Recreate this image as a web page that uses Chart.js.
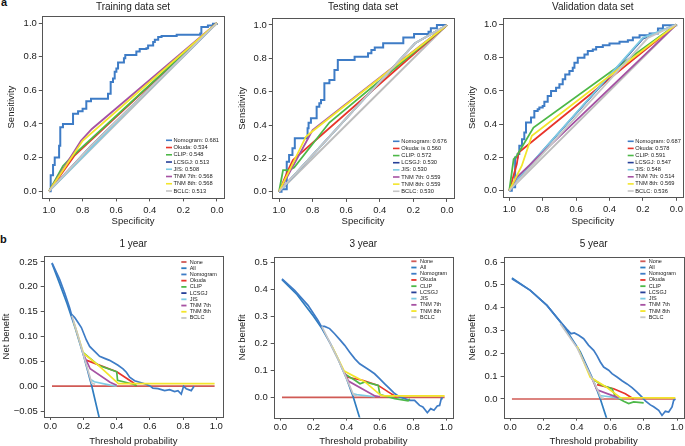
<!DOCTYPE html>
<html><head><meta charset="utf-8">
<script src="https://cdn.jsdelivr.net/npm/chart.js@4/dist/chart.umd.min.js"></script>
<style>
html,body{margin:0;padding:0;background:#fff;width:685px;height:446px;overflow:hidden;position:relative;font-family:"Liberation Sans",Arial,Helvetica,sans-serif;}
canvas{position:absolute;}
.lab{position:absolute;font-weight:bold;font-size:11px;line-height:11px;color:#111;}
</style></head><body>
<div class="lab" style="left:1px;top:-3px">a</div>
<div class="lab" style="left:0px;top:234px">b</div>
<canvas id="c1" width="229" height="230" style="left:0px;top:0px"></canvas>
<canvas id="c2" width="229" height="230" style="left:229px;top:0px"></canvas>
<canvas id="c3" width="227" height="230" style="left:458px;top:0px"></canvas>
<canvas id="c4" width="229" height="216" style="left:0px;top:230px"></canvas>
<canvas id="c5" width="229" height="216" style="left:229px;top:230px"></canvas>
<canvas id="c6" width="227" height="216" style="left:458px;top:230px"></canvas>
<script>
// ---------------- DATA ----------------
const models = ['Nomogram','Okuda','CLIP','LCSGJ','JIS','TNM 7th','TNM 8th','BCLC'];
const dcaNames = ['None','All','Nomogram','Okuda','CLIP','LCSGJ','JIS','TNM 7th','TNM 8th','BCLC'];
const trainAUC = ['0.681','0.534','0.548','0.513','0.508','0.568','0.568','0.513'];
const testAUC  = ['0.676','is 0.560','0.572','0.530','0.530','0.559','0.559','0.530'];
const validAUC = ['0.687','0.578','0.591','0.547','0.548','0.514','0.569','0.536'];

const rocTicks = [0,0.2,0.4,0.6,0.8,1.0];
const rocTickLabels = ['0.0','0.2','0.4','0.6','0.8','1.0'];
const dcaXTicks = [0,0.2,0.4,0.6,0.8,1.0];
const dcaXTickLabels = ['0.0','0.2','0.4','0.6','0.8','1.0'];
const y1Ticks = [-0.05,0,0.05,0.10,0.15,0.20,0.25];
const y1TickLabels = ['\u22120.05','0.00','0.05','0.10','0.15','0.20','0.25'];
const y3Ticks = [0,0.1,0.2,0.3,0.4,0.5];
const y3TickLabels = ['0.0','0.1','0.2','0.3','0.4','0.5'];
const y5Ticks = [0,0.1,0.2,0.3,0.4,0.5,0.6];
const y5TickLabels = ['0.0','0.1','0.2','0.3','0.4','0.5','0.6'];

// ROC reference line (specificity, sensitivity)
const refLine = [[1,0],[0,1]];

// Training ROC
const trainNomogram = [[1,0],[0.99,0.095],[0.976,0.155],[0.966,0.20],[0.94,0.27],[0.933,0.38],[0.917,0.40],[0.857,0.46],[0.827,0.475],[0.80,0.49],[0.778,0.535],[0.75,0.55],[0.649,0.58],[0.633,0.65],[0.619,0.67],[0.609,0.71],[0.599,0.73],[0.589,0.765],[0.554,0.79],[0.546,0.81],[0.48,0.83],[0.46,0.845],[0.42,0.85],[0.41,0.867],[0.38,0.887],[0.37,0.90],[0.35,0.917],[0.33,0.923],[0.24,0.93],[0.10,0.937],[0.093,0.976],[0.054,0.986],[0.024,0.996],[0,1]];
const trainOkuda = [[1,0],[0.85,0.21],[0,1]];
const trainClip = [[1,0],[0.917,0.15],[0.87,0.20],[0,1]];
const trainLcsgj = [[1,0],[0.75,0.27],[0,1]];
const trainJis = [[1,0],[0.5,0.51],[0,1]];
const trainTnm7 = [[1,0],[0.81,0.30],[0.745,0.37],[0,1]];
const trainTnm8 = [[1,0],[0.80,0.30],[0,1]];
const trainBclc = [[1,0],[0.75,0.27],[0,1]];

// Testing ROC
const testNomogram = [[1,0],[0.985,0.015],[0.954,0.18],[0.94,0.22],[0.92,0.26],[0.906,0.32],[0.83,0.38],[0.824,0.414],[0.81,0.44],[0.776,0.51],[0.76,0.53],[0.75,0.55],[0.73,0.65],[0.70,0.67],[0.67,0.73],[0.65,0.79],[0.55,0.81],[0.47,0.83],[0.45,0.85],[0.43,0.865],[0.38,0.89],[0.26,0.925],[0.196,0.946],[0.11,0.96],[0.096,0.98],[0.06,1.0],[0,1]];
const testOkuda = [[1,0],[0.946,0.13],[0.917,0.19],[0,1]];
const testClip = [[1,0],[0.976,0.13],[0.94,0.13],[0.91,0.145],[0.70,0.415],[0,1]];
const testLcsgj = [[1,0],[0.19,0.89],[0,1]];
const testJis = [[1,0],[0.19,0.89],[0,1]];
const testTnm7 = [[1,0],[0.80,0.37],[0,1]];
const testTnm8 = [[1,0],[0.84,0.33],[0.81,0.355],[0,1]];
const testBclc = [[1,0],[0.19,0.89],[0,1]];

// Validation ROC
const validNomogram = [[1,0],[0.985,0.02],[0.965,0.20],[0.95,0.22],[0.94,0.27],[0.924,0.31],[0.91,0.35],[0.90,0.41],[0.87,0.44],[0.85,0.48],[0.83,0.49],[0.82,0.50],[0.80,0.51],[0.79,0.535],[0.77,0.57],[0.75,0.60],[0.72,0.62],[0.70,0.64],[0.68,0.67],[0.665,0.70],[0.64,0.72],[0.62,0.74],[0.61,0.77],[0.59,0.80],[0.55,0.82],[0.53,0.84],[0.50,0.85],[0.48,0.865],[0.44,0.875],[0.40,0.886],[0.34,0.896],[0.29,0.906],[0.26,0.922],[0.22,0.936],[0.16,0.946],[0.11,0.976],[0.08,0.996],[0,1]];
const validOkuda = [[1,0],[0.955,0.16],[0.944,0.23],[0,1]];
const validClip = [[1,0],[0.974,0.19],[0.955,0.21],[0.855,0.38],[0,1]];
const validLcsgj = [[1,0],[0.96,0.06],[0.2,0.915],[0,1]];
const validJis = [[1,0],[0.96,0.06],[0.2,0.92],[0,1]];
const validTnm7 = [[1,0],[0.955,0.08],[0,1]];
const validTnm8 = [[1,0],[0.925,0.15],[0.865,0.33],[0,1]];
const validBclc = [[1,0],[0.17,0.92],[0,1]];

// Decision curves (threshold, net benefit) — 1 year
const none1 = [[0.01,0],[0.99,0]];
const all1 = [[0.01,0.247],[0.05,0.212],[0.10,0.167],[0.15,0.117],[0.20,0.062],[0.25,0.0],[0.30,-0.071]];
const nom1 = [[0.01,0.248],[0.056,0.215],[0.086,0.188],[0.116,0.158],[0.127,0.145],[0.147,0.138],[0.167,0.128],[0.187,0.118],[0.217,0.093],[0.237,0.08],[0.267,0.07],[0.297,0.06],[0.327,0.056],[0.357,0.052],[0.388,0.046],[0.408,0.042],[0.438,0.035],[0.458,0.028],[0.478,0.018],[0.508,0.011],[0.538,0.008],[0.568,0.005],[0.598,0.001],[0.618,-0.004],[0.649,-0.005],[0.689,-0.009],[0.719,-0.007],[0.749,-0.011],[0.769,-0.009],[0.789,-0.016],[0.803,0.0],[0.819,-0.005],[0.849,-0.009],[0.866,0.0]];
const okuda1 = [[0.22,0.052],[0.40,0.029],[0.50,0.007],[0.52,0.0]];
const clip1 = [[0.20,0.067],[0.29,0.042],[0.40,0.029],[0.405,0.012],[0.50,0.004],[0.52,0.001]];
const lcsgj1 = [];
const jis1 = [[0.245,0.013],[0.265,0.009],[0.36,0.002],[0.40,0.0]];
const tnm7_1 = [[0.20,0.064],[0.24,0.035],[0.36,0.008],[0.40,0.002]];
const tnm8_1 = [[0.14,0.13],[0.20,0.066],[0.29,0.042],[0.40,0.008],[0.41,0.005],[0.99,0.005]];
const bclc1 = [[0.13,0.142],[0.17,0.098],[0.21,0.051],[0.25,0.006],[0.27,0.004]];

// 3 year
const none3 = [[0.01,0],[0.99,0]];
const all3 = [[0.01,0.435],[0.10,0.38],[0.20,0.30],[0.25,0.255],[0.30,0.20],[0.35,0.138],[0.40,0.068],[0.44,0.0],[0.48,-0.08]];
const nom3 = [[0.01,0.438],[0.086,0.395],[0.167,0.34],[0.227,0.284],[0.247,0.262],[0.267,0.262],[0.297,0.254],[0.327,0.235],[0.357,0.214],[0.388,0.192],[0.418,0.167],[0.448,0.143],[0.478,0.124],[0.508,0.112],[0.538,0.10],[0.568,0.087],[0.598,0.069],[0.629,0.05],[0.659,0.032],[0.689,0.014],[0.719,0.001],[0.749,-0.005],[0.779,-0.011],[0.809,-0.011],[0.839,-0.03],[0.859,-0.036],[0.886,-0.057],[0.906,-0.042],[0.926,-0.048],[0.946,-0.032],[0.96,-0.03],[0.97,-0.005],[0.974,0.0]];
const okuda3 = [[0.40,0.075],[0.50,0.062],[0.59,0.044],[0.65,0.02],[0.70,0.001]];
const clip3 = [[0.39,0.085],[0.45,0.063],[0.48,0.05],[0.51,0.057],[0.59,0.044],[0.60,0.01],[0.69,-0.005],[0.77,-0.013],[0.78,-0.005]];
const lcsgj3 = [];
const jis3 = [[0.44,0.013],[0.46,0.01],[0.57,0.002]];
const tnm7_3 = [[0.385,0.095],[0.41,0.06],[0.57,0.005],[0.60,0.002]];
const tnm8_3 = [[0.31,0.19],[0.385,0.097],[0.51,0.057],[0.60,0.01],[0.62,0.005],[0.99,0.005]];
const bclc3 = [[0.25,0.262],[0.30,0.20],[0.35,0.138],[0.40,0.068],[0.44,0.01],[0.46,0.005]];

// 5 year
const none5 = [[0.01,0],[0.99,0]];
const all5 = [[0.01,0.53],[0.12,0.476],[0.22,0.41],[0.32,0.32],[0.42,0.206],[0.49,0.095],[0.52,0.04],[0.54,0.0],[0.58,-0.09]];
const nom5 = [[0.01,0.527],[0.12,0.476],[0.22,0.41],[0.31,0.33],[0.34,0.305],[0.364,0.286],[0.384,0.289],[0.41,0.279],[0.44,0.264],[0.47,0.235],[0.50,0.213],[0.52,0.19],[0.54,0.162],[0.56,0.14],[0.59,0.126],[0.61,0.111],[0.64,0.096],[0.67,0.08],[0.70,0.066],[0.73,0.05],[0.76,0.03],[0.79,0.008],[0.81,-0.008],[0.84,-0.026],[0.86,-0.034],[0.89,-0.05],[0.91,-0.072],[0.93,-0.054],[0.95,-0.057],[0.97,-0.035],[0.98,-0.006],[0.99,0.0]];
const okuda5 = [[0.52,0.063],[0.62,0.045],[0.69,0.023],[0.74,0.0]];
const clip5 = [[0.49,0.09],[0.55,0.06],[0.61,0.045],[0.63,0.01],[0.68,-0.01],[0.71,-0.02],[0.74,-0.013],[0.80,-0.017]];
const lcsgj5 = [];
const jis5 = [[0.53,0.015],[0.56,0.013],[0.67,0.003]];
const tnm7_5 = [[0.49,0.09],[0.52,0.04],[0.65,0.005]];
const tnm8_5 = [[0.40,0.232],[0.48,0.095],[0.58,0.05],[0.66,0.006],[0.99,0.005]];
const bclc5 = [[0.30,0.33],[0.40,0.225],[0.49,0.09],[0.52,0.045],[0.545,0.005],[0.56,0.004]];

// ---------------- STYLE ----------------
const FONT = '"Liberation Sans", Arial, Helvetica, sans-serif';
const COLORS = {
  Nomogram:'#3E7CC6', Okuda:'#E8342B', CLIP:'#4DB848', LCSGJ:'#263F98', JIS:'#7DCBE3',
  'TNM 7th':'#A652A3', 'TNM 8th':'#F3E52B', BCLC:'#C6C6C6', None:'#D05A55', All:'#2F7DC0', ref:'#BDBDBD'
};
const toXY = a => a.map(p => ({x:p[0], y:p[1]}));

function rocDatasets(series, aucs) {
  const ds = [{label:'', data:toXY(refLine), borderColor:COLORS.ref, borderWidth:1.9}];
  models.forEach((m,i) => ds.push({label:m + ': ' + aucs[i], data:toXY(series[i]), borderColor:COLORS[m],
    borderWidth: m==='Nomogram' ? 2 : 1.8, stepped: m==='Nomogram' ? 'before' : false}));
  return ds.map((d,i,arr) => Object.assign(d, {order:arr.length-i, pointRadius:0, fill:false, tension:0}));
}
function dcaDatasets(series) {
  return dcaNames.map((n,i) => ({label:n, data:toXY(series[i]), borderColor:COLORS[n], borderWidth:1.7,
    order:dcaNames.length-i, pointRadius:0, fill:false, tension:0}));
}

function deco(title, L) {
  return { id:'deco', afterDraw(chart) {
    const ctx = chart.ctx, a = chart.chartArea;
    ctx.save();
    ctx.strokeStyle = '#555'; ctx.lineWidth = 1;
    const l = Math.round(a.left), t = Math.round(a.top), r = Math.round(a.right), b = Math.round(a.bottom);
    ctx.strokeRect(l+0.5, t+0.5, r-l, b-t);
    ctx.fillStyle = '#1a1a1a'; ctx.font = '10px ' + FONT; ctx.textAlign = 'center'; ctx.textBaseline = 'middle';
    ctx.fillText(title, (a.left+a.right)/2, L.titleY);
    const G = L.leg;
    ctx.font = G.font + 'px ' + FONT; ctx.textAlign = 'left';
    let row = 0;
    chart.data.datasets.forEach(ds => {
      if (!ds.label) return;
      const y = G.y0 + row*G.dy;
      ctx.strokeStyle = ds.borderColor; ctx.lineWidth = G.lw;
      ctx.beginPath(); ctx.moveTo(G.sx, y); ctx.lineTo(G.ex, y); ctx.stroke();
      ctx.fillStyle = '#1a1a1a';
      ctx.fillText(ds.label, G.tx, y);
      row++;
    });
    ctx.restore();
  }};
}

function axisOpts(isX, ax, L) {
  return {
    type:'linear', position: isX ? 'bottom' : 'left', min:ax.min, max:ax.max, reverse:!!ax.reverse,
    afterBuildTicks: s => { s.ticks = ax.ticks.map(v => ({value:v})); },
    afterFit: s => { if (isX) s.height = L.xH; else s.width = L.yW; },
    ticks: {autoSkip:false, maxRotation:0, minRotation:0, padding: isX ? L.xTickPad : L.yTickPad,
      color:'#1a1a1a', font:{family:FONT, size:9.5}, callback:(v,i) => ax.labels[i]},
    grid: {display:true, drawOnChartArea:false, drawTicks:true, tickLength:L.tickLen, color:'#555', lineWidth:1},
    border: {display:false},
    title: {display:true, text:ax.title, color:'#1a1a1a', font:{family:FONT, size:9.5, lineHeight:1},
      padding: isX ? {top:0, bottom:L.xTitlePad} : {top:L.yTitlePad, bottom:0}}
  };
}

function build(id, datasets, xAx, yAx, title, L) {
  return new Chart(document.getElementById(id), {
    type:'line',
    data:{datasets},
    options:{
      responsive:false, animation:false, devicePixelRatio:1, events:[],
      layout:{padding:{left:0, top:L.padTop, right:L.padRight, bottom:0}},
      plugins:{legend:{display:false}, tooltip:{enabled:false}},
      scales:{x:axisOpts(true, xAx, L), y:axisOpts(false, yAx, L)}
    },
    plugins:[deco(title, L)]
  });
}

const rocX = {min:-0.04, max:1.04, reverse:true, ticks:rocTicks, labels:rocTickLabels, title:'Specificity'};
const rocY = {min:-0.04, max:1.04, ticks:rocTicks, labels:rocTickLabels, title:'Sensitivity'};
const dcaX = {min:-0.04, max:1.04, ticks:dcaXTicks, labels:dcaXTickLabels, title:'Threshold probability'};

const topBase = {tickLen:3.5, xTickPad:2.8, yTickPad:2, xTitlePad:3.5, titleY:7.3};
const botBase = {tickLen:3, xTickPad:1, yTickPad:3, xTitlePad:0, titleY:14.3};

const L1 = Object.assign({}, topBase, {padTop:16.3, padRight:5.3, yW:42.3, xH:32.1, yTitlePad:6.25,
  leg:{sx:166, ex:172, tx:173.5, y0:140.3, dy:7.24, lw:1.6, font:5.7}});
const L2 = Object.assign({}, topBase, {padTop:18.3, padRight:4.3, yW:43.3, xH:31.6, yTitlePad:8.75,
  leg:{sx:164, ex:170.5, tx:172.3, y0:141.3, dy:7.14, lw:1.6, font:5.7}});
const L3 = Object.assign({}, topBase, {padTop:17.9, padRight:2, yW:44.6, xH:32.7, yTitlePad:9.75,
  leg:{sx:169.7, ex:175.7, tx:177.3, y0:141.3, dy:7.1, lw:1.6, font:5.7}});
const L4 = Object.assign({}, botBase, {padTop:26, padRight:6.1, yW:43.7, xH:29, yTitlePad:1.25,
  leg:{sx:181.3, ex:186.5, tx:189.7, y0:32, dy:6.22, lw:1.8, font:5.5}});
const L5 = Object.assign({}, botBase, {padTop:26.9, padRight:5.1, yW:44.7, xH:28.4, yTitlePad:8.45,
  leg:{sx:182.3, ex:187.5, tx:191, y0:31.3, dy:6.22, lw:1.8, font:5.5}});
const L6 = Object.assign({}, botBase, {padTop:27, padRight:1.3, yW:45.6, xH:28.3, yTitlePad:9.45,
  leg:{sx:182.3, ex:187.5, tx:190.7, y0:31.3, dy:6.22, lw:1.8, font:5.5}});

build('c1', rocDatasets([trainNomogram,trainOkuda,trainClip,trainLcsgj,trainJis,trainTnm7,trainTnm8,trainBclc], trainAUC), rocX, rocY, 'Training data set', L1);
build('c2', rocDatasets([testNomogram,testOkuda,testClip,testLcsgj,testJis,testTnm7,testTnm8,testBclc], testAUC), rocX, rocY, 'Testing data set', L2);
build('c3', rocDatasets([validNomogram,validOkuda,validClip,validLcsgj,validJis,validTnm7,validTnm8,validBclc], validAUC), rocX, rocY, 'Validation data set', L3);

build('c4', dcaDatasets([none1,all1,nom1,okuda1,clip1,lcsgj1,jis1,tnm7_1,tnm8_1,bclc1]), dcaX,
  {min:-0.062, max:0.262, ticks:y1Ticks, labels:y1TickLabels, title:'Net benefit'}, '1 year', L4);
build('c5', dcaDatasets([none3,all3,nom3,okuda3,clip3,lcsgj3,jis3,tnm7_3,tnm8_3,bclc3]), dcaX,
  {min:-0.075, max:0.519, ticks:y3Ticks, labels:y3TickLabels, title:'Net benefit'}, '3 year', L5);
build('c6', dcaDatasets([none5,all5,nom5,okuda5,clip5,lcsgj5,jis5,tnm7_5,tnm8_5,bclc5]), dcaX,
  {min:-0.082, max:0.622, ticks:y5Ticks, labels:y5TickLabels, title:'Net benefit'}, '5 year', L6);
</script>
</body></html>
